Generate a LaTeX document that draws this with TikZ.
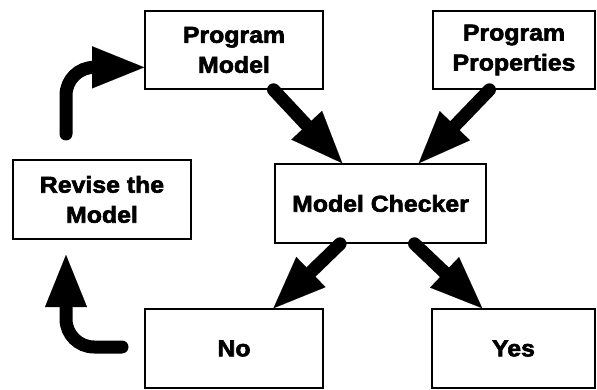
\documentclass[tikz,border=0pt]{standalone}
\usepackage{fontspec}
\newfontfamily\lblfont{Liberation Sans}[BoldFeatures={FakeStretch=1.08,FakeBold=2.6}]
\usetikzlibrary{arrows.meta,calc}

\tikzset{
  box/.style={draw, line width=1.6pt, inner sep=0pt, align=center,
    minimum height=78pt,
    font=\lblfont\bfseries\fontsize{23}{30}\selectfont},
  flow/.style={line width=13pt, line cap=round,
    -{Triangle[length=52pt,width=42pt,line width=0.01pt]}},
  loop/.style={flow, rounded corners=28pt}
}

\begin{document}
\begin{tikzpicture}[x=1pt,y=-1pt]
  \useasboundingbox (0,0) rectangle (597,390);

  % boxes
  \node[box, minimum width=178pt] (pm)  at (234,50)    {Program\\Model};
  \node[box, minimum width=162pt] (pp)  at (514,50)    {Program\\Properties};
  \node[box, minimum width=211pt, minimum height=79pt] (mc) at (380.5,203.5) {Model Checker};
  \node[box, minimum width=178pt, minimum height=79pt] (rev) at (102,199.5) {Revise the\\Model};
  \node[box, minimum width=178pt, minimum height=79pt] (no)  at (234,348.5) {No};
  \node[box, minimum width=163pt, minimum height=79pt] (yes) at (513.5,348.5) {Yes};

  % inputs to the checker
  \draw[flow] ($(pm.south west)!0.72!(pm.south east)$) -- ($(mc.north west)!0.32!(mc.north east)$);
  \draw[flow] ($(pp.south west)!0.35!(pp.south east)$) -- ($(mc.north west)!0.68!(mc.north east)$);

  % verdicts
  \draw[flow] ($(mc.south west)!0.31!(mc.south east)$) -- ($(no.north west)!0.72!(no.north east)$);
  \draw[flow] ($(mc.south west)!0.66!(mc.south east)$) -- ($(yes.north west)!0.31!(yes.north east)$);

  % revision loop
  \coordinate (revUp)   at (66,134);
  \coordinate (noOut)   at (122,347);
  \coordinate (revIn)   at (66,255);
  \coordinate (pmIn)    at ($(pm.north west)!0.718!(pm.south west)$);
  \draw[loop] (revUp) |- (pmIn);
  \draw[loop] (noOut) -| (revIn);
\end{tikzpicture}
\end{document}
